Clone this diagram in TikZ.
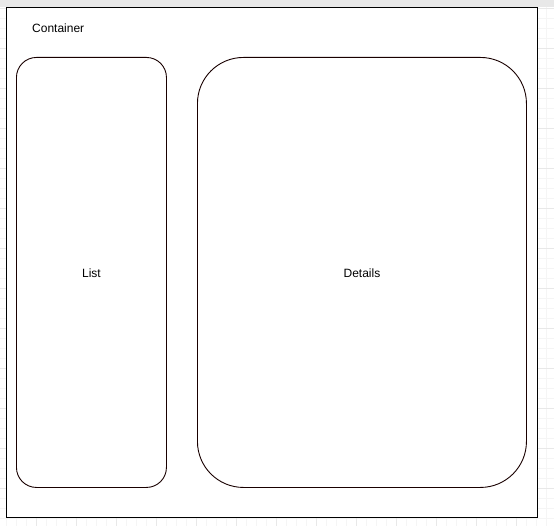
\documentclass[tikz,border=0pt]{standalone}
\usepackage{fontspec}
\setmainfont{Liberation Sans}
\begin{document}
\begin{tikzpicture}[x=1pt,y=-1pt,
  box/.style={draw=black!90!red, line width=0.9pt},
  lbl/.style={font=\fontsize{12}{14}\selectfont, inner sep=0pt}]
\useasboundingbox (0,0) rectangle (554,526);
\fill[white] (0,0) rectangle (554,526);
% grid
\foreach \x in {6,16,...,554} \draw[black!4, line width=0.6pt] (\x,7) -- (\x,526);
\foreach \y in {8,18,...,526} \draw[black!4, line width=0.6pt] (0,\y) -- (554,\y);
\foreach \x in {36,76,...,554} \draw[black!9, line width=0.7pt] (\x,7) -- (\x,526);
\foreach \y in {8,48,...,526} \draw[black!9, line width=0.7pt] (0,\y) -- (554,\y);
\fill[black!9] (0,0) rectangle (554,7);
% container
\node[draw=black, line width=0.9pt, fill=white, minimum width=531pt, minimum height=510pt, inner sep=0pt, anchor=north west] (container) at (6,7) {};
\node[lbl, anchor=west] (ctitle) at (32,28) {Container};
\node[box, rounded corners=20pt, minimum width=150pt, minimum height=430pt, inner sep=0pt, anchor=north west] (list) at (16,57) {};
\node[lbl] (listlbl) at ([yshift=-1pt]list.center) {List};
\node[box, rounded corners=46pt, minimum width=329pt, minimum height=430pt, inner sep=0pt, anchor=north west] (details) at (197,57) {};
\node[lbl] (detlbl) at ([yshift=-1pt]details.center) {Details};
\end{tikzpicture}
\end{document}
